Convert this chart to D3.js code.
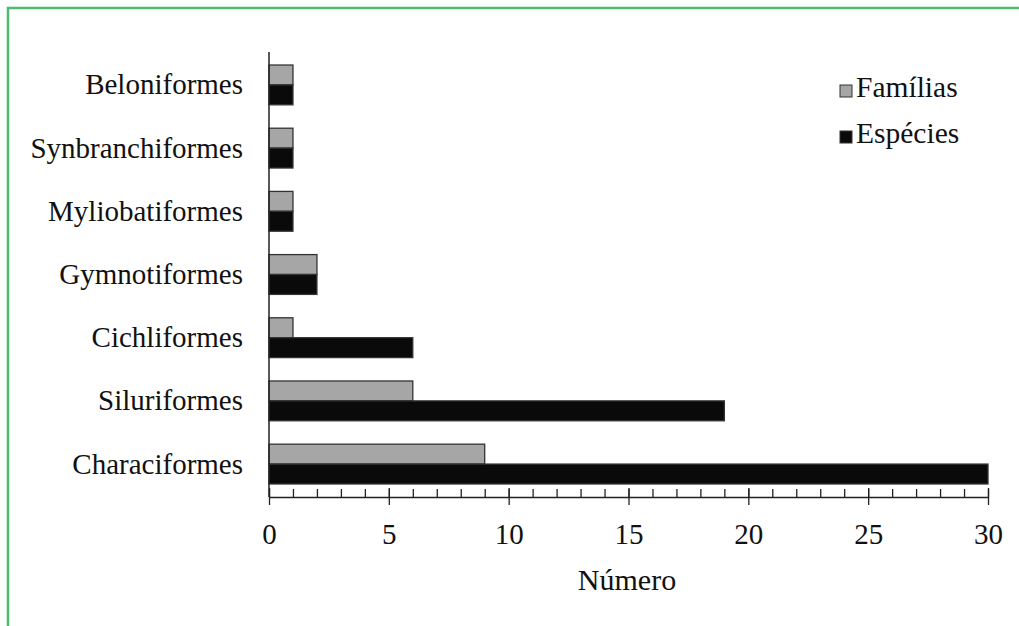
<!DOCTYPE html>
<html>
<head>
<meta charset="utf-8">
<script src="https://cdn.jsdelivr.net/npm/d3@7"></script>
<style>
html,body{margin:0;padding:0;background:#fff;}
svg{display:block;}
text{font-family:"Liberation Serif","Times New Roman",serif;fill:#111;}
</style>
</head>
<body>
<svg id="chart" width="1019" height="626"></svg>
<script>
const categories = ["Beloniformes","Synbranchiformes","Myliobatiformes","Gymnotiformes","Cichliformes","Siluriformes","Characiformes"];
const series = ["Famílias","Espécies"];
const familias = [1,1,1,2,1,6,9];
const especies = [1,1,1,2,6,19,30];
const xTicks = [0,5,10,15,20,25,30];
const xTitle = "Número";
const colors = {"Famílias":"#a6a6a6","Espécies":"#0a0a0a"};

const svg = d3.select("#chart");
// green frame (top + left)
svg.append("path").attr("d","M8,626 V8 H1019").attr("fill","none").attr("stroke","#4dbb6d").attr("stroke-width",2.5);

const x = d3.scaleLinear().domain([0,30]).range([269,988]);
const y = d3.scaleBand().domain(categories).range([52,497]).paddingInner(0.37).paddingOuter(0.206);
const ys = d3.scaleBand().domain(series).range([0,y.bandwidth()]);

const data = categories.map((c,i)=>({cat:c, vals:[{s:"Famílias",v:familias[i]},{s:"Espécies",v:especies[i]}]}));

const g = svg.append("g");
const grp = g.selectAll("g.cat").data(data).join("g").attr("transform",d=>`translate(0,${y(d.cat)})`);
grp.selectAll("rect").data(d=>d.vals).join("rect")
  .attr("x",x(0))
  .attr("y",d=>ys(d.s))
  .attr("width",d=>x(d.v)-x(0))
  .attr("height",ys.bandwidth())
  .attr("fill",d=>colors[d.s])
  .attr("stroke","#333")
  .attr("stroke-width",1.3);

// category labels
g.selectAll("text.cat").data(categories).join("text")
  .attr("class","cat")
  .attr("x",243)
  .attr("y",d=>y(d)+y.bandwidth()/2)
  .attr("dy","0.33em")
  .attr("text-anchor","end")
  .style("font-size","29px")
  .text(d=>d);

// y axis line
svg.append("line").attr("x1",x(0)).attr("x2",x(0)).attr("y1",52).attr("y2",497).attr("stroke","#222").attr("stroke-width",1.5);

// x axis: minor ticks (upward)
const minor = svg.append("g").attr("transform","translate(0,497)")
  .call(d3.axisBottom(x).tickValues(d3.range(0,31,1)).tickSize(-8).tickFormat(""));
minor.select(".domain").remove();
minor.selectAll("line").attr("stroke","#222").attr("stroke-width",1.3);

// major ticks crossing
const major = svg.append("g").attr("transform","translate(0,497)")
  .call(d3.axisBottom(x).tickValues(xTicks).tickSizeInner(8).tickSizeOuter(0).tickPadding(18).tickFormat(d3.format("d")));
major.select(".domain").attr("stroke","#222").attr("stroke-width",1.5);
major.selectAll(".tick line").attr("stroke","#222").attr("stroke-width",1.3).attr("y1",-9);
major.selectAll(".tick text").style("font-size","29px").style("font-family","'Liberation Serif',serif").attr("fill","#111");

// x title
svg.append("text").attr("x",627).attr("y",590).attr("text-anchor","middle").style("font-size","30px").text(xTitle);

// legend
const leg = svg.append("g");
series.forEach((s,i)=>{
  const yy = 85 + i*46;
  leg.append("rect").attr("x",840).attr("y",yy).attr("width",12).attr("height",12)
    .attr("fill",colors[s]).attr("stroke","#333").attr("stroke-width",1);
  leg.append("text").attr("x",856).attr("y",yy+12).style("font-size","29.5px").text(s);
});
</script>
</body>
</html>
